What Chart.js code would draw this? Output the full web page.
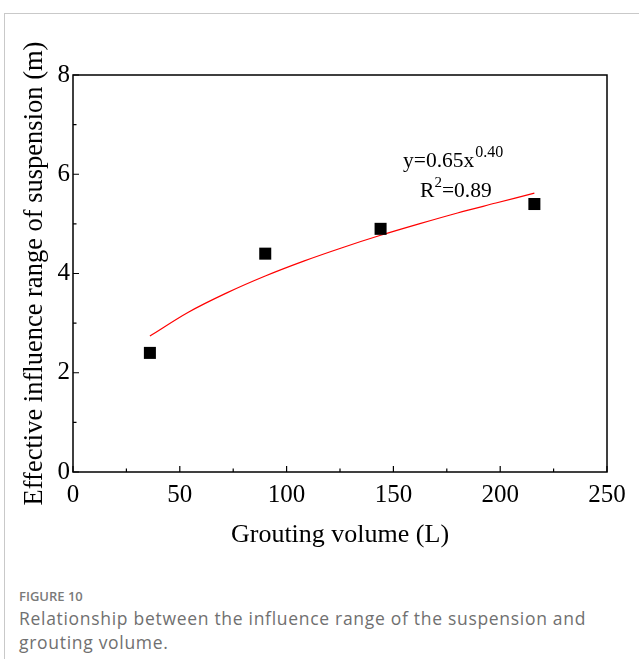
<!DOCTYPE html>
<html>
<head>
<meta charset="utf-8">
<script src="https://cdn.jsdelivr.net/npm/chart.js@4.4.1/dist/chart.umd.min.js"></script>
<style>
  html, body { margin: 0; padding: 0; background: #fff; overflow: hidden; }
  body { width: 639px; height: 659px; position: relative; }
  .card { position: absolute; left: 4px; top: 13px; width: 700px; height: 700px;
          border-top: 1px solid #c9c9c9; border-left: 1px solid #c9c9c9; }
  #wrap { position: absolute; left: 0; top: 0; width: 639px; height: 570px; }
  .caption { position: absolute; left: 19px; top: 586px; width: 610px;
             font-family: "Open Sans", "Noto Sans", sans-serif; color: #707070; }
  .caption .fig { font-size: 13px; font-weight: 600; color: #7a7a7a; line-height: 20px; }
  .caption .txt { font-size: 17.5px; line-height: 24px; letter-spacing: 0.7px; }
</style>
</head>
<body>
<div class="card"></div>
<div id="wrap"><canvas id="chart" width="639" height="570"></canvas></div>
<div class="caption">
  <div class="fig">FIGURE 10</div>
  <div class="txt">Relationship between the influence range of the suspension and grouting volume.</div>
</div>
<script>
// measured points
const groutVolume = [36, 90, 144, 216];
const influenceRange = [2.4, 4.4, 4.9, 5.4];

// fitted curve y=0.65x^0.40
const fitVolume = [36, 54, 72, 90, 108, 126, 144, 162, 180, 198, 216];
const fitRange = [2.74, 3.22, 3.61, 3.95, 4.25, 4.52, 4.77, 5.00, 5.22, 5.42, 5.62];

const xTicks = [0, 50, 100, 150, 200, 250];
const yTicks = [0, 2, 4, 6, 8];

const serif = 'Liberation Serif, Times New Roman, serif';

// box frame and inward ticks (major + minor)
const frameTicks = {
    id: 'frameTicks',
    afterDatasetsDraw(chart) {
        const ctx = chart.ctx;
        const a = chart.chartArea;
        const x = chart.scales.x;
        const y = chart.scales.y;
        ctx.save();
        ctx.strokeStyle = '#000';
        ctx.lineWidth = 1.5;
        ctx.strokeRect(a.left, a.top, a.right - a.left, a.bottom - a.top);
        ctx.lineWidth = 1.2;
        ctx.beginPath();
        for (let i = 0; i < xTicks.length; i++) {
            const px = x.getPixelForValue(xTicks[i]);
            ctx.moveTo(px, a.bottom);
            ctx.lineTo(px, a.bottom - 6);
            if (i < xTicks.length - 1) {
                const mx = x.getPixelForValue((xTicks[i] + xTicks[i + 1]) / 2);
                ctx.moveTo(mx, a.bottom);
                ctx.lineTo(mx, a.bottom - 3.5);
            }
        }
        for (let i = 0; i < yTicks.length; i++) {
            const py = y.getPixelForValue(yTicks[i]);
            ctx.moveTo(a.left, py);
            ctx.lineTo(a.left + 6, py);
            if (i < yTicks.length - 1) {
                const my = y.getPixelForValue((yTicks[i] + yTicks[i + 1]) / 2);
                ctx.moveTo(a.left, my);
                ctx.lineTo(a.left + 3.5, my);
            }
        }
        ctx.stroke();
        ctx.restore();
    }
};

// fit equation text
const fitLabel = {
    id: 'fitLabel',
    afterDatasetsDraw(chart) {
        const ctx = chart.ctx;
        const x = chart.scales.x;
        const y = chart.scales.y;
        ctx.save();
        ctx.fillStyle = '#000';
        ctx.textBaseline = 'alphabetic';
        ctx.textAlign = 'left';

        let px = x.getPixelForValue(154.5);
        let py = y.getPixelForValue(6.15);
        ctx.font = '21.5px ' + serif;
        ctx.fillText('y=0.65x', px, py);
        px += ctx.measureText('y=0.65x').width;
        ctx.font = '16px ' + serif;
        ctx.fillText('0.40', px + 1, py - 10);

        px = x.getPixelForValue(162.5);
        py = y.getPixelForValue(5.55);
        ctx.font = '21.5px ' + serif;
        ctx.fillText('R', px, py);
        let w = ctx.measureText('R').width;
        ctx.font = '15px ' + serif;
        ctx.fillText('2', px + w, py - 10);
        w += ctx.measureText('2').width;
        ctx.font = '21.5px ' + serif;
        ctx.fillText('=0.89', px + w, py);
        ctx.restore();
    }
};

const ctx = document.getElementById('chart').getContext('2d');
const chart = new Chart(ctx, {
    type: 'scatter',
    data: {
        datasets: [{
            label: 'Measured',
            data: groutVolume.map((v, i) => ({x: v, y: influenceRange[i]})),
            pointStyle: 'rect',
            pointRadius: 8.5,
            backgroundColor: '#000',
            borderColor: '#000',
            borderWidth: 0
        }, {
            label: 'Fit',
            data: fitVolume.map((v, i) => ({x: v, y: fitRange[i]})),
            showLine: true,
            pointRadius: 0,
            borderColor: '#ff0000',
            borderWidth: 1.2,
            cubicInterpolationMode: 'monotone',
            fill: false
        }]
    },
    options: {
        responsive: false,
        animation: false,
        devicePixelRatio: 1,
        layout: {
            padding: {left: 19, right: 32, top: 75, bottom: 0}
        },
        plugins: {
            legend: {display: false},
            tooltip: {enabled: false}
        },
        scales: {
            x: {
                type: 'linear',
                min: 0,
                max: 250,
                afterBuildTicks: (scale) => { scale.ticks = xTicks.map(v => ({value: v})); },
                afterFit: (scale) => { scale.height = 98; },
                grid: {display: false, drawTicks: false},
                border: {display: false},
                ticks: {
                    color: '#000',
                    padding: 8,
                    maxRotation: 0,
                    font: {family: serif, size: 25}
                },
                title: {
                    display: true,
                    text: 'Grouting volume (L)',
                    color: '#000',
                    padding: {top: 0, bottom: 19},
                    font: {family: serif, size: 26}
                }
            },
            y: {
                type: 'linear',
                min: 0,
                max: 8,
                afterBuildTicks: (scale) => { scale.ticks = yTicks.map(v => ({value: v})); },
                afterFit: (scale) => { scale.width = 54; },
                grid: {display: false, drawTicks: false},
                border: {display: false},
                ticks: {
                    color: '#000',
                    padding: 3,
                    font: {family: serif, size: 25}
                },
                title: {
                    display: true,
                    text: 'Effective influence range of suspension (m)',
                    color: '#000',
                    padding: {top: 0, bottom: 0},
                    font: {family: serif, size: 26.5}
                }
            }
        }
    },
    plugins: [frameTicks, fitLabel]
});
</script>
</body>
</html>
